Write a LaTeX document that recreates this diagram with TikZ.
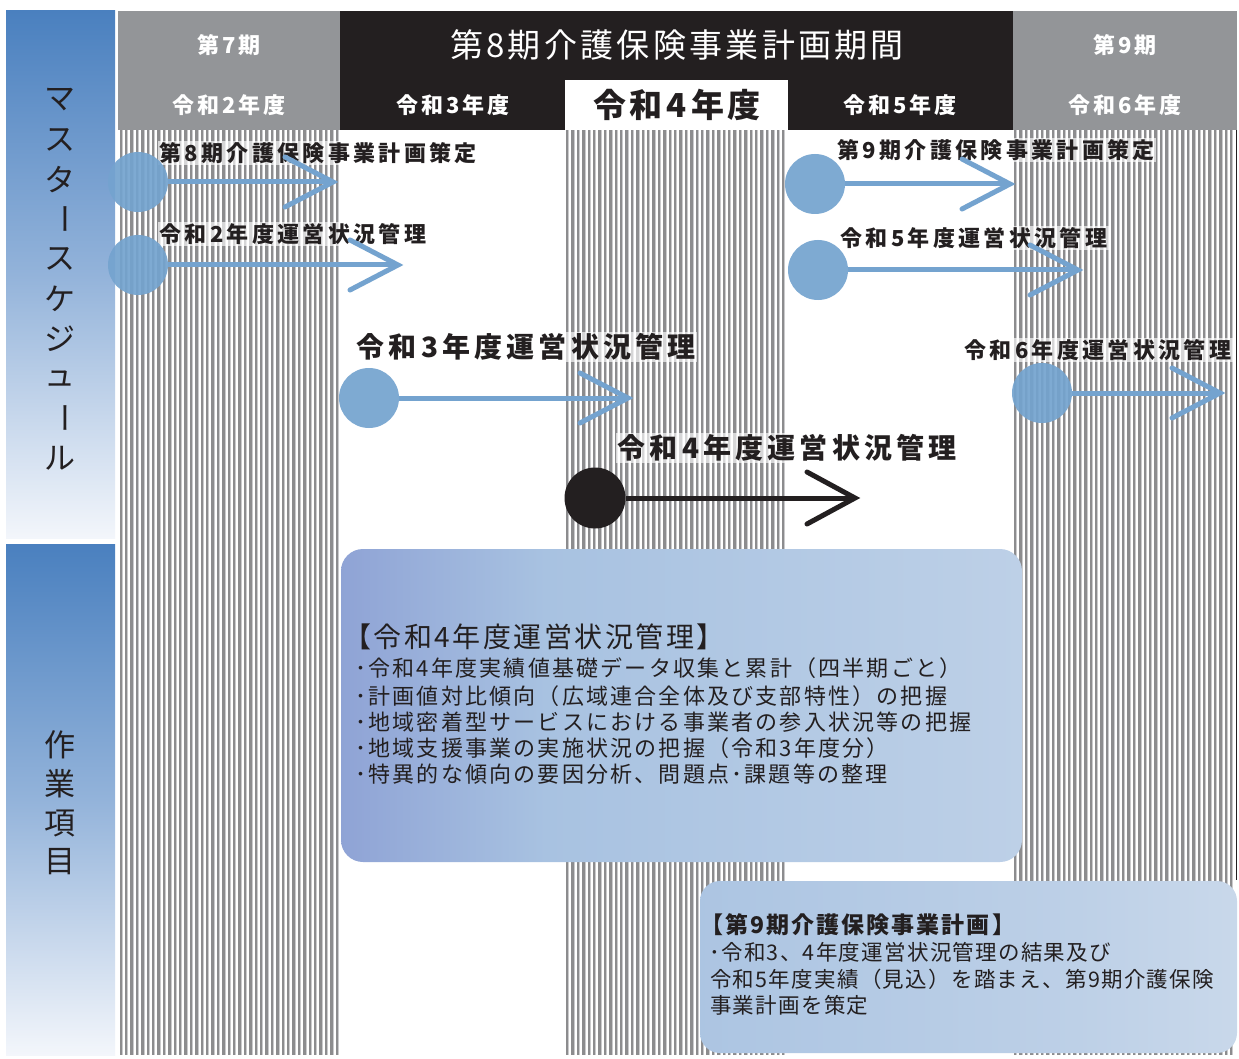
\documentclass[tikz,border=0pt]{standalone}
\usepackage{fontspec}
\setmainfont{Noto Sans CJK JP}
\usetikzlibrary{calc}
\definecolor{hgray}{HTML}{939598}
\definecolor{hblack}{HTML}{231F20}
\definecolor{cblue}{HTML}{74A3CF}
\definecolor{stripeD}{HTML}{8C8C8E}
\definecolor{stripeL}{HTML}{CACACC}
\definecolor{colTop}{HTML}{4A80BF}
\definecolor{colMid}{HTML}{93B3DA}
\definecolor{colBot}{HTML}{F3F6FB}
\definecolor{bA0}{HTML}{9AAAD9}
\definecolor{bA1}{HTML}{7583C3}
\definecolor{bA2}{HTML}{8A9DD3}
\definecolor{bA3}{HTML}{A8C2E1}
\definecolor{bA4}{HTML}{BDD0E7}
\definecolor{bA5}{HTML}{DCE5F0}
\pgfdeclarehorizontalshading{boxA}{100bp}{color(0bp)=(bA0); color(10bp)=(bA1); color(22bp)=(bA2); color(40bp)=(bA3); color(75bp)=(bA4); color(100bp)=(bA5)}
\pgfdeclarehorizontalshading{boxB}{100bp}{color(0bp)=(bA0); color(8bp)=(bA1); color(16bp)=(bA3); color(60bp)=(bA4); color(100bp)=(bA5)}
\tikzset{
  hdr/.style={text=white, inner sep=0pt, font=\fontsize{22}{22}\selectfont\bfseries\addfontfeature{LetterSpace=13}},
  lab/.style={anchor=west, fill=white, fill opacity=0.65, text opacity=1, text=hblack, inner sep=1.5pt, font=\fontsize{22}{22}\selectfont\bfseries\addfontfeature{LetterSpace=15}},
  labbig/.style={lab, font=\fontsize{28}{28}\selectfont\bfseries\addfontfeature{LetterSpace=15}},
  dot/.style={circle, fill=cblue, fill opacity=0.92, minimum size=60pt, inner sep=0pt},
  bdot/.style={circle, fill=hblack, minimum size=61pt, inner sep=0pt},
  arr/.style={draw=cblue, line width=5pt},
  barr/.style={draw=hblack, line width=5pt},
  vch/.style={text=hblack, inner sep=0pt, font=\fontsize{31}{31}\selectfont},
  boxtxt/.style={anchor=west, inner sep=0pt, text=hblack, font=\fontsize{22}{22}\selectfont\addfontfeature{LetterSpace=10}},
}
\begin{document}
\begin{tikzpicture}[x=1pt,y=-1pt]
\useasboundingbox (0,0) rectangle (1239,1059);
\fill[white] (0,0) rectangle (1239,1059);
% stripes
\foreach \x in {119.5,124.9,...,339} {
  \fill[stripeD] (\x,130) rectangle (\x+2.4,1055);
  \fill[stripeL] (\x+2.4,130) rectangle (\x+3.3,1055);
}
\foreach \x in {566,571.4,...,787} {
  \fill[stripeD] (\x,130) rectangle (\x+2.4,1055);
  \fill[stripeL] (\x+2.4,130) rectangle (\x+3.3,1055);
}
\foreach \x in {1014,1019.4,...,1235} {
  \fill[stripeD] (\x,130) rectangle (\x+2.4,1055);
  \fill[stripeL] (\x+2.4,130) rectangle (\x+3.3,1055);
}
\draw[hblack, line width=1.5pt] (1236.5,130) -- (1236.5,880);
% left column
\shade[top color=colTop, bottom color=colBot, middle color=colMid] (6,11) rectangle (115,538);
\shade[top color=colTop, bottom color=colBot, middle color=colMid] (6,544) rectangle (115,1055);
\foreach \c [count=\i] in {マ,ス,タ,ー,ス,ケ,ジ,ュ,ー,ル} {
  \ifnum\i=4 \node[vch, rotate=-90] (v\i) at (60,{100+(\i-1)*39.8}) {\c};
  \else\ifnum\i=9 \node[vch, rotate=-90] (v\i) at (60,{100+(\i-1)*39.8}) {\c};
  \else \node[vch] (v\i) at (60,{100+(\i-1)*39.8}) {\c};
  \fi\fi
}
\foreach \c [count=\i] in {作,業,項,目} {
  \node[vch] (w\i) at (60,{745+(\i-1)*39}) {\c};
}
% header
\fill[hgray] (118,11) rectangle (340,130);
\fill[hgray] (1013,11) rectangle (1237,130);
\fill[hblack] (340,11) rectangle (1013,130);
\fill[white] (565,80) rectangle (788,130);
\node[hdr] (p7) at (229,45) {第7期};
\node[hdr] (y2) at (229,105) {令和2年度};
\node[text=white, inner sep=0pt, font=\fontsize{33}{33}\selectfont\addfontfeature{LetterSpace=10}] (title) at (677,45) {第8期介護保険事業計画期間};
\node[hdr] (y3) at (453,105) {令和3年度};
\node[text=hblack, inner sep=0pt, font=\fontsize{33}{33}\selectfont\bfseries\addfontfeature{LetterSpace=12}] (y4) at (677,105) {令和4年度};
\node[hdr] (y5) at (900,105) {令和5年度};
\node[hdr] (p9) at (1125,45) {第9期};
\node[hdr] (y6) at (1125,105) {令和6年度};
% labels
\node[lab] (l1) at (158,153) {第8期介護保険事業計画策定};
\node[lab] (l2) at (158,234) {令和2年度運営状況管理};
\node[labbig] (l3) at (355,347) {令和3年度運営状況管理};
\node[labbig] (l4) at (616,448) {令和4年度運営状況管理};
\node[lab] (l5) at (836,150) {第9期介護保険事業計画策定};
\node[lab] (l6) at (839,238) {令和5年度運営状況管理};
\node[lab] (l7) at (963,350) {令和6年度運営状況管理};
% circles and arrows
\node[dot] (c1) at (138,182) {};
\node[dot] (c2) at (138,265) {};
\node[dot] (c3) at (369,398) {};
\node[bdot] (c4) at (595,498) {};
\node[dot] (c5) at (815,184) {};
\node[dot] (c6) at (818,270) {};
\node[dot] (c7) at (1042,393) {};
\coordinate (e1) at (333,182);
\coordinate (e2) at (398,265);
\coordinate (e3) at (628,398);
\coordinate (e4) at (855,498);
\coordinate (e5) at (1010,184);
\coordinate (e6) at (1078,270);
\coordinate (e7) at (1220,393);
\foreach \i in {1,2,3,5,6,7} {
  \draw[arr] (c\i.east) -- (e\i);
  \draw[arr, line cap=round, line join=miter] ($(e\i)+(-48,-25)$) -- (e\i) -- ($(e\i)+(-48,25)$);
}
\draw[barr] (c4.east) -- (e4);
\draw[barr, line cap=round] ($(e4)+(-48,-26)$) -- (e4) -- ($(e4)+(-48,26)$);
% box 1
\shade[shading=boxA, rounded corners=22pt] (341,549) rectangle (1022,862);
\node[boxtxt, font=\fontsize{28}{28}\selectfont\addfontfeature{LetterSpace=9}] (b1h) at (343,637) {【令和4年度運営状況管理】};
\node[boxtxt] (b1a) at (355,668) {･令和4年度実績値基礎データ収集と累計（四半期ごと）};
\node[boxtxt] (b1b) at (355,696) {･計画値対比傾向（広域連合全体及び支部特性）の把握};
\node[boxtxt] (b1c) at (355,722) {･地域密着型サービスにおける事業者の参入状況等の把握};
\node[boxtxt] (b1d) at (355,748) {･地域支援事業の実施状況の把握（令和3年度分）};
\node[boxtxt] (b1e) at (355,774) {･特異的な傾向の要因分析、問題点･課題等の整理};
% box 2
\shade[shading=boxB, rounded corners=20pt] (700,881) rectangle (1237,1053);
\node[boxtxt, font=\fontsize{23}{23}\selectfont\bfseries\addfontfeature{LetterSpace=9}] (b2h) at (700,925) {【第9期介護保険事業計画】};
\node[boxtxt, font=\fontsize{21.5}{21.5}\selectfont\addfontfeature{LetterSpace=6}] (b2a) at (709,952) {･令和3、4年度運営状況管理の結果及び};
\node[boxtxt, font=\fontsize{21.5}{21.5}\selectfont\addfontfeature{LetterSpace=6}] (b2b) at (710,979) {令和5年度実績（見込）を踏まえ、第9期介護保険};
\node[boxtxt, font=\fontsize{21.5}{21.5}\selectfont\addfontfeature{LetterSpace=6}] (b2c) at (710,1005) {事業計画を策定};
\end{tikzpicture}
\end{document}
